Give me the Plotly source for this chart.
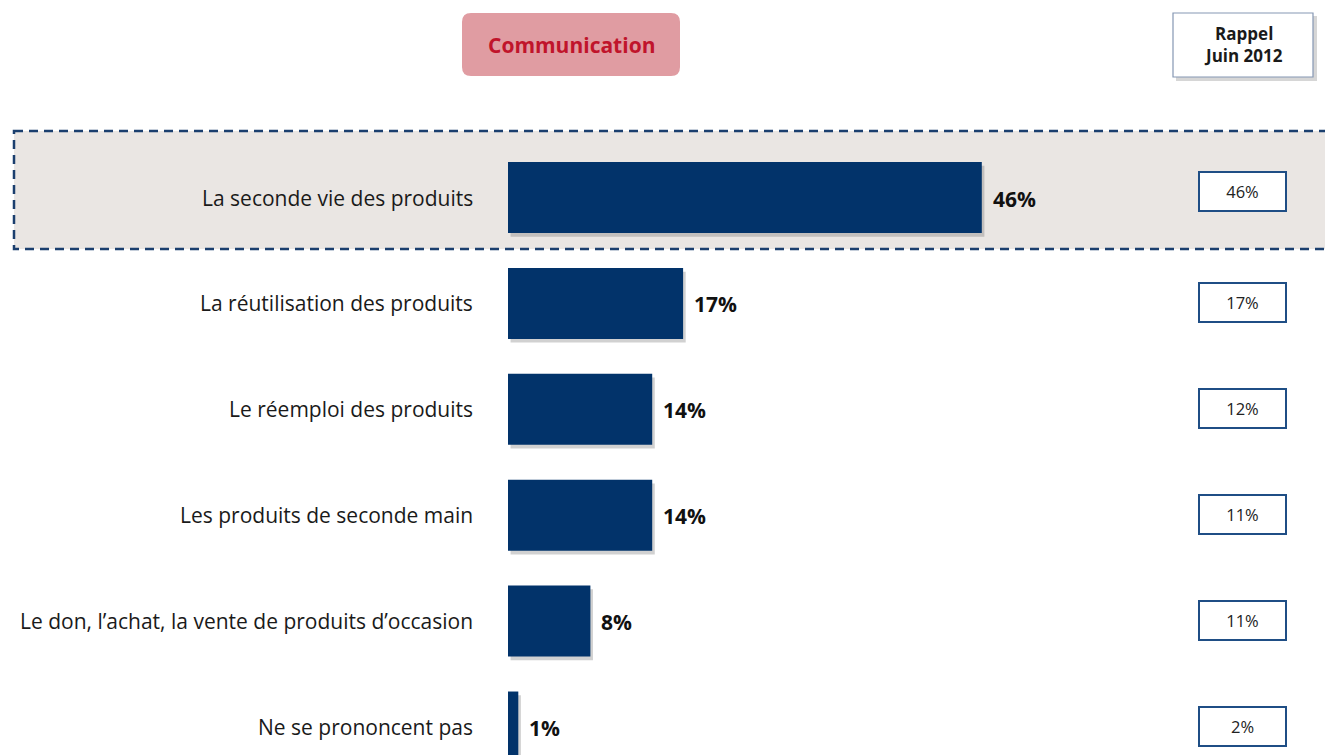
import plotly.graph_objects as go

categories = [
    "La seconde vie des produits",
    "La réutilisation des produits",
    "Le réemploi des produits",
    "Les produits de seconde main",
    "Le don, l’achat, la vente de produits d’occasion",
    "Ne se prononcent pas",
]
values_2013 = [46, 17, 14, 14, 8, 1]
rappel_juin_2012 = [46, 17, 12, 11, 11, 2]
title_text = "Communication"
rappel_title = "Rappel<br>Juin 2012"

OFF = 8  # page body margin
W, H = 1333 - OFF, 755 - OFF
ML, MR, MT, MB = 508 - OFF, 5, 0, 0
PW, PH = W - ML - MR, H - MT - MB
PX_PER_UNIT = 10.3
XMAX = PW / PX_PER_UNIT
Y_TOP = -(197.5 - OFF) / 105.9
Y_BOT = (H - (197.5 - OFF)) / 105.9

BAR = "#02336A"
FONT = "Open Sans"

def px(p):
    # reference pixel x -> paper
    return (p - OFF - ML) / PW

def py(p):
    # reference pixel y -> paper
    return 1 - (p - OFF - MT) / PH

def rrect(x0, y0, x1, y1, r):
    X0, X1 = px(x0), px(x1)
    Y0, Y1 = py(y0), py(y1)
    rx, ry = r / PW, r / PH
    return (f"M {X0+rx},{Y0} L {X1-rx},{Y0} Q {X1},{Y0} {X1},{Y0-ry} "
            f"L {X1},{Y1+ry} Q {X1},{Y1} {X1-rx},{Y1} L {X0+rx},{Y1} "
            f"Q {X0},{Y1} {X0},{Y1+ry} L {X0},{Y0-ry} Q {X0},{Y0} {X0+rx},{Y0} Z")

fig = go.Figure()
# soft shadow under bars
fig.add_trace(go.Bar(
    y=categories, x=values_2013, orientation="h",
    marker=dict(color="rgba(90,90,90,0.28)", line=dict(width=0)),
    width=0.67, offset=-0.30, base=[0.25] * len(values_2013),
    hoverinfo="skip",
))
fig.add_trace(go.Bar(
    y=categories, x=values_2013, orientation="h",
    marker=dict(color=BAR, line=dict(width=0)),
    width=0.67, offset=-0.335,
    hoverinfo="skip",
))

shapes = [
    dict(type="rect", xref="paper", yref="paper", layer="below",
         x0=px(14), x1=px(1345), y0=py(131), y1=py(249),
         fillcolor="#EAE6E3", line=dict(color="#1B3F6E", width=2.5, dash="9px,6px")),
    dict(type="path", xref="paper", yref="paper", path=rrect(462, 13, 680, 76, 9),
         fillcolor="#E09CA2", line=dict(width=0)),
    dict(type="rect", xref="paper", yref="paper",
         x0=px(1176), x1=px(1317), y0=py(16), y1=py(81),
         fillcolor="rgba(120,120,120,0.30)", line=dict(width=0)),
    dict(type="rect", xref="paper", yref="paper",
         x0=px(1173), x1=px(1313), y0=py(13), y1=py(77),
         fillcolor="white", line=dict(color="#8597B3", width=1.2)),
]

annotations = [
    dict(xref="paper", yref="paper", x=px(571), y=py(45), xanchor="center", yanchor="middle",
         text=f"<b>{title_text}</b>", showarrow=False,
         font=dict(family=FONT, size=21, color="#C0142B")),
    dict(xref="paper", yref="paper", x=px(1243), y=py(45), xanchor="center", yanchor="middle",
         text=f"<b>{rappel_title}</b>", showarrow=False,
         font=dict(family=FONT, size=17, color="#1A1A1A")),
]
for i, (cat, v) in enumerate(zip(categories, rappel_juin_2012)):
    annotations.append(dict(
        xref="paper", yref="y", x=px(1242.5), y=cat, xanchor="center", yanchor="middle",
        text=f"{v}%", showarrow=False,
        font=dict(family=FONT, size=16.5, color="#222222"),
        bordercolor="#1F4E85", borderwidth=2, bgcolor="white",
        width=83, height=35, yshift=6 if i == 0 else 1,
    ))
for cat, v in zip(categories, values_2013):
    annotations.append(dict(
        xref="x", yref="y", x=v, y=cat, xanchor="left", yanchor="middle", xshift=9, yshift=-1,
        text=f"<b>{v}%</b>", showarrow=False,
        font=dict(family=FONT, size=21, color="#111111"),
    ))
    annotations.append(dict(
        xref="paper", yref="y", x=px(475), y=cat, xanchor="right", yanchor="middle",
        text=cat, showarrow=False,
        font=dict(family=FONT, size=21, color="#1A1A1A"),
    ))

fig.update_layout(
    width=W, height=H, margin=dict(l=ML, r=MR, t=MT, b=MB),
    paper_bgcolor="white", plot_bgcolor="rgba(0,0,0,0)",
    showlegend=False, barmode="overlay",
    xaxis=dict(range=[0, XMAX], visible=False, fixedrange=True),
    yaxis=dict(categoryorder="array", categoryarray=categories,
               range=[Y_BOT, Y_TOP], visible=False, fixedrange=True),
    shapes=shapes, annotations=annotations,
)

fig.write_html("out.html")
